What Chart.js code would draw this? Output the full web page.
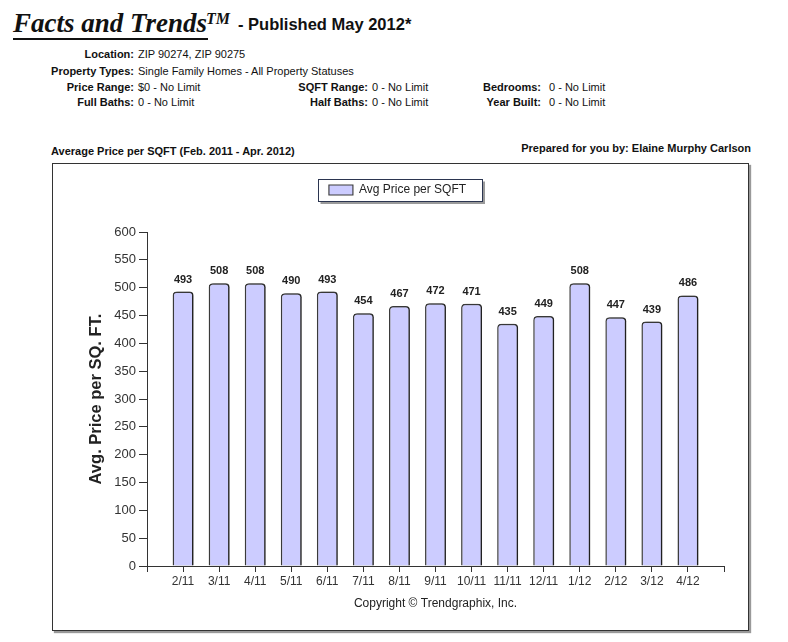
<!DOCTYPE html>
<html><head><meta charset="utf-8">
<script src="https://cdn.jsdelivr.net/npm/chart.js@4.4.1/dist/chart.umd.min.js"></script>
<style>
body{margin:0;background:#fff;width:788px;height:642px;position:relative;overflow:hidden;font-family:"Liberation Sans",Arial,sans-serif;color:#111}
.t{position:absolute;white-space:nowrap;line-height:14px;font-size:11px}
.b{font-weight:bold}
.lab{position:absolute;white-space:nowrap;line-height:14px;font-size:11px;font-weight:bold;text-align:right;left:0}
#box{position:absolute;left:52px;top:163px;width:695px;height:466px;border:1px solid #333;box-shadow:2px 2px 1px #999;background:#fff}
#c{position:absolute;left:0;top:0}
</style></head>
<body>
<div style="position:absolute;left:13px;top:5px;font:bold italic 27px 'Liberation Serif','Times New Roman',serif;line-height:36px;white-space:nowrap">Facts and Trends</div>
<div style="position:absolute;left:206px;top:9px;font:bold italic 16px 'Liberation Serif','Times New Roman',serif;line-height:20px">TM</div>
<div style="position:absolute;left:238px;top:14px;font:bold 16.5px 'Liberation Sans',Arial,sans-serif;line-height:20px;white-space:nowrap">- Published May 2012*</div>
<div style="position:absolute;left:13px;top:38px;width:195px;height:2px;background:#111"></div>

<div class="lab" style="top:47px;width:134px">Location:</div><div class="t" style="left:138px;top:47px">ZIP 90274, ZIP 90275</div>
<div class="lab" style="top:64px;width:134px">Property Types:</div><div class="t" style="left:138px;top:64px">Single Family Homes - All Property Statuses</div>
<div class="lab" style="top:80px;width:134px">Price Range:</div><div class="t" style="left:138px;top:80px">$0 - No Limit</div>
<div class="lab" style="top:95px;width:134px">Full Baths:</div><div class="t" style="left:138px;top:95px">0 - No Limit</div>
<div class="lab" style="top:80px;width:368px">SQFT Range:</div><div class="t" style="left:372px;top:80px">0 - No Limit</div>
<div class="lab" style="top:95px;width:368px">Half Baths:</div><div class="t" style="left:372px;top:95px">0 - No Limit</div>
<div class="lab" style="top:80px;width:541px">Bedrooms:</div><div class="t" style="left:549px;top:80px">0 - No Limit</div>
<div class="lab" style="top:95px;width:541px">Year Built:</div><div class="t" style="left:549px;top:95px">0 - No Limit</div>

<div class="t b" style="left:51px;top:144px">Average Price per SQFT (Feb. 2011 - Apr. 2012)</div>
<div class="lab" style="top:141px;width:751px">Prepared for you by: Elaine Murphy Carlson</div>

<div id="box"><canvas id="c" width="695" height="466"></canvas></div>

<script>
// ---- data ----
const categories = ['2/11','3/11','4/11','5/11','6/11','7/11','8/11','9/11','10/11','11/11','12/11','1/12','2/12','3/12','4/12'];
const avgPricePerSqft = [493,508,508,490,493,454,467,472,471,435,449,508,447,439,486];
const seriesName = 'Avg Price per SQFT';
const yMin = 0, yMax = 600, yStep = 50;
const yTitle = 'Avg. Price per SQ. FT.';
const xTitle = 'Copyright \u00A9 Trendgraphix, Inc.';

// axis runs one empty slot beyond each end
const axisLabels = [''].concat(categories, ['']);
const axisValues = [null].concat(avgPricePerSqft, [null]);

const FONT = "'Liberation Sans', Arial, sans-serif";

const legendExtra = {
  id: 'legendExtra',
  afterInit(chart) {
    const lg = chart.legend;
    if (lg && !lg._patched) {
      const orig = lg.fit;
      lg.fit = function() { orig.call(this); this.height += 26; };
      lg._patched = true;
    }
  },
  afterLayout(chart) {
    const lg = chart.legend;
    if (lg) { lg.left -= 6; lg.right -= 6; }
  },
  afterDraw(chart) {
    const lg = chart.legend;
    if (!lg || !lg.legendHitBoxes || !lg.legendHitBoxes.length) return;
    const hb = lg.legendHitBoxes[0];
    const cy = hb.top + hb.height / 2;
    const l = Math.round(hb.left - 11) + 0.5, r = Math.round(hb.left + hb.width + 16) + 0.5;
    const t = Math.round(cy - 11) + 0.5, b = Math.round(cy + 11) + 0.5;
    const ctx = chart.ctx;
    ctx.save();
    ctx.strokeStyle = '#9a9a9a';
    ctx.lineWidth = 2;
    ctx.beginPath();
    ctx.moveTo(r + 1.5, t + 2); ctx.lineTo(r + 1.5, b + 1.5); ctx.lineTo(l + 2, b + 1.5);
    ctx.stroke();
    ctx.strokeStyle = '#2b3550';
    ctx.lineWidth = 1;
    ctx.strokeRect(l, t, r - l, b - t);
    ctx.restore();
  }
};

const barShadow = {
  id: 'barShadow',
  beforeDatasetsDraw(chart) {
    const ctx = chart.ctx;
    ctx.save();
    ctx.shadowColor = 'rgba(0,0,0,0.45)';
    ctx.shadowOffsetX = 2;
    ctx.shadowOffsetY = 0;
    ctx.shadowBlur = 1;
  },
  afterDatasetsDraw(chart) { chart.ctx.restore(); }
};

const valueLabels = {
  id: 'valueLabels',
  afterDatasetsDraw(chart) {
    const ctx = chart.ctx;
    const meta = chart.getDatasetMeta(0);
    const data = chart.data.datasets[0].data;
    ctx.save();
    ctx.font = 'bold 11px ' + FONT;
    ctx.fillStyle = '#222';
    ctx.textAlign = 'center';
    ctx.textBaseline = 'alphabetic';
    meta.data.forEach((el, i) => {
      if (data[i] == null) return;
      ctx.fillText(String(data[i]), el.x, el.y - 9);
    });
    ctx.restore();
  }
};

new Chart(document.getElementById('c'), {
  type: 'bar',
  data: {
    labels: axisLabels,
    datasets: [{
      label: seriesName,
      data: axisValues,
      backgroundColor: '#ccccff',
      borderColor: '#3a3a3a',
      borderWidth: {top: 1.5, left: 1.5, right: 1.5, bottom: 0},
      borderSkipped: 'bottom',
      borderRadius: {topLeft: 4, topRight: 4, bottomLeft: 0, bottomRight: 0},
      categoryPercentage: 1,
      barPercentage: 0.58
    }]
  },
  options: {
    responsive: false,
    animation: false,
    devicePixelRatio: 1,
    layout: {padding: {left: 30, right: 24, top: 10, bottom: 15}},
    plugins: {
      legend: {
        position: 'top',
        labels: {boxWidth: 24, boxHeight: 10, padding: 10, color: '#222', font: {size: 12, family: FONT}}
      },
      tooltip: {enabled: false}
    },
    scales: {
      x: {
        type: 'category',
        offset: false,
        grid: {offset: false, drawOnChartArea: false, drawTicks: true, tickLength: 6, color: '#333'},
        border: {color: '#333', width: 1},
        ticks: {autoSkip: false, maxRotation: 0, minRotation: 0, padding: 2, color: '#333', font: {size: 12, family: FONT}},
        title: {display: true, text: xTitle, color: '#222', font: {size: 12, family: FONT}, padding: {top: 4, bottom: 4}},
        afterFit(s) { s.height = 49; }
      },
      y: {
        min: yMin, max: yMax,
        grid: {drawOnChartArea: false, drawTicks: true, tickLength: 8, color: '#333'},
        border: {color: '#333', width: 1},
        ticks: {stepSize: yStep, padding: 3, color: '#333', font: {size: 13, family: FONT}},
        title: {display: true, text: yTitle, color: '#222', font: {size: 16.5, weight: 'bold', family: FONT}, padding: {top: 4, bottom: 4}},
        afterFit(s) { s.width = 64; }
      }
    }
  },
  plugins: [legendExtra, barShadow, valueLabels]
});
</script>
</body></html>
